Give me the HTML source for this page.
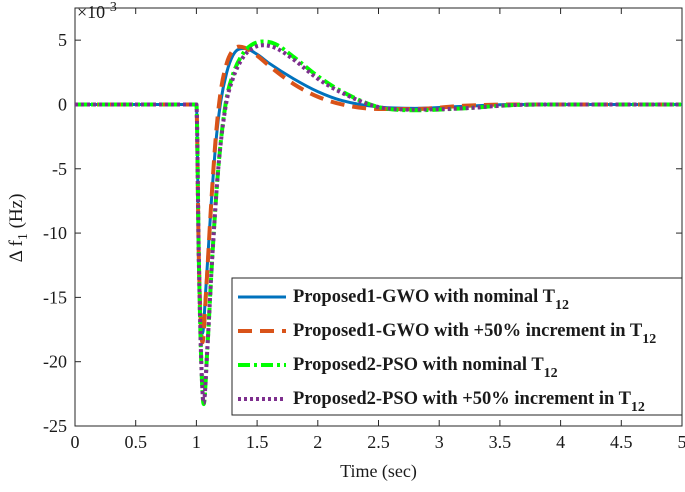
<!DOCTYPE html>
<html><head><meta charset="utf-8"><style>
body{margin:0;background:#fff;}
svg text{font-family:"Liberation Serif",serif;fill:#1a1a1a;}
</style></head><body>
<svg id="chart" width="685" height="487">
<g id="grid"></g>
<g id="series"></g>
<g id="legend"></g>
</svg>
<script>
const xTicks=[0,0.5,1,1.5,2,2.5,3,3.5,4,4.5,5];
const yTicks=[5,0,-5,-10,-15,-20,-25];
const tBlue=[0,1,1.02,1.05,1.08,1.12,1.16,1.2,1.25,1.3,1.35,1.4,1.5,1.6,1.8,2.0,2.2,2.5,2.8,3.2,3.6,4,5];
const vBlue=[0,0,-12,-17.8,-14,-8,-3,0.2,2.5,3.8,4.3,4.35,3.9,3.2,2.0,1.0,0.3,-0.2,-0.3,-0.15,0,0,0];
const tOrange=[0,1,1.02,1.05,1.08,1.12,1.16,1.2,1.25,1.3,1.35,1.4,1.5,1.6,1.8,2.0,2.2,2.5,2.8,3.2,3.6,4,5];
const vOrange=[0,0,-12,-18.5,-14.5,-8,-2.5,1,3.2,4.2,4.5,4.4,3.8,3.0,1.6,0.6,0,-0.35,-0.35,-0.1,0,0,0];
const tGreen=[0,1,1.02,1.04,1.06,1.09,1.13,1.18,1.24,1.3,1.38,1.45,1.55,1.65,1.8,2.0,2.2,2.5,2.8,3.2,3.6,4,5];
const vGreen=[0,0,-12,-20,-23.3,-19,-12,-5,0,2.3,3.9,4.6,4.9,4.7,3.7,2.2,1.0,-0.2,-0.45,-0.3,-0.05,0,0];
const tPurple=[0,1,1.02,1.04,1.06,1.09,1.13,1.18,1.24,1.3,1.38,1.45,1.55,1.65,1.8,2.0,2.2,2.5,2.8,3.2,3.6,4,5];
const vPurple=[0,0,-12,-20,-23.2,-19,-12,-5,-0.2,2.0,3.6,4.3,4.6,4.4,3.5,2.0,0.9,-0.2,-0.4,-0.3,-0.05,0,0];
const legendLabels=["Proposed1-GWO with nominal T","Proposed1-GWO with +50% increment in T","Proposed2-PSO with nominal T","Proposed2-PSO with +50% increment in T"];

const L=75,R=682,T=8,B=426,xmin=0,xmax=5,ymin=-25,ymax=7.5;
const X=v=>L+(v-xmin)/(xmax-xmin)*(R-L);
const Y=v=>B-(v-ymin)/(ymax-ymin)*(B-T);
const NS="http://www.w3.org/2000/svg";
function mk(tag,attrs,parent){const e=document.createElementNS(NS,tag);for(const k in attrs)e.setAttribute(k,attrs[k]);parent.appendChild(e);return e;}
const svg=document.getElementById('chart');
const grid=document.getElementById('grid');
const box=mk('rect',{x:L,y:T,width:R-L,height:B-T,fill:'#fff',stroke:'#262626','stroke-width':1},grid);


xTicks.forEach(v=>{
  const x=X(v);
  mk('line',{x1:x,x2:x,y1:B,y2:B-6,stroke:'#262626'},grid);
  mk('line',{x1:x,x2:x,y1:T,y2:T+6,stroke:'#262626'},grid);
  const t=mk('text',{x:x,y:B+22,'text-anchor':'middle','font-size':18},grid);
  t.textContent=String(v);
  
  
});
yTicks.forEach(v=>{
  const y=Y(v);
  mk('line',{x1:L,x2:L+6,y1:y,y2:y,stroke:'#262626'},grid);
  mk('line',{x1:R,x2:R-6,y1:y,y2:y,stroke:'#262626'},grid);
  const t=mk('text',{x:L-8,y:y+6,'text-anchor':'end','font-size':18},grid);
  t.textContent=String(v);
  
  
});
const xl=mk('text',{x:(L+R)/2,y:477,'text-anchor':'middle','font-size':18},svg);
xl.textContent='Time (sec)';


const yl=mk('text',{transform:'translate(22,228) rotate(-90)','text-anchor':'middle','font-size':19},svg);
yl.innerHTML='Δ f<tspan dy="5" font-size="14">1</tspan><tspan dy="-5"> (Hz)</tspan>';


const ex=mk('text',{x:77,y:18,'font-size':18},svg);
ex.innerHTML='×10<tspan dy="-7" font-size="14">-3</tspan>';



// monotone cubic (Fritsch-Carlson) - no overshoot
function pathD(ts,vs){
  const n=ts.length,d=[],m=new Array(n);
  for(let i=0;i<n-1;i++)d.push((vs[i+1]-vs[i])/(ts[i+1]-ts[i]));
  m[0]=d[0];m[n-1]=d[n-2];
  for(let i=1;i<n-1;i++){m[i]=(d[i-1]*d[i]<=0)?0:(d[i-1]+d[i])/2;}
  for(let i=0;i<n-1;i++){
    if(d[i]===0){m[i]=0;m[i+1]=0;continue;}
    const a=m[i]/d[i],b=m[i+1]/d[i],s=a*a+b*b;
    if(s>9){const k=3/Math.sqrt(s);m[i]=k*a*d[i];m[i+1]=k*b*d[i];}
  }
  let p='M'+X(ts[0])+','+Y(vs[0]);
  for(let i=0;i<n-1;i++){
    const h=ts[i+1]-ts[i];
    p+=` C${X(ts[i]+h/3)},${Y(vs[i]+m[i]*h/3)} ${X(ts[i+1]-h/3)},${Y(vs[i+1]-m[i+1]*h/3)} ${X(ts[i+1])},${Y(vs[i+1])}`;
  }
  return p;
}
const styles=[
 {c:'#0072BD',w:3,da:'',name:'series-gwo-nominal'},
 {c:'#D95319',w:4,da:'14,8',name:'series-gwo-increment'},
 {c:'#00FF00',w:4,da:'12,4,3,4',name:'series-pso-nominal'},
 {c:'#7E2F8E',w:4,da:'3,3',name:'series-pso-increment'}];
const sg=document.getElementById('series');
[[tBlue,vBlue],[tOrange,vOrange],[tGreen,vGreen],[tPurple,vPurple]].forEach((s,i)=>{
  const st=styles[i];
  const pth=mk('path',{d:pathD(s[0],s[1]),fill:'none',stroke:st.c,'stroke-width':st.w,'stroke-dasharray':st.da},sg);
  
  
});
const lg=document.getElementById('legend');
const lb=mk('rect',{x:232,y:278,width:450,height:137,fill:'#fff',stroke:'#262626'},lg);


legendLabels.forEach((lab,i)=>{
  const y=297+i*34,st=styles[i];
  mk('line',{x1:238,x2:286,y1:y,y2:y,stroke:st.c,'stroke-width':st.w,'stroke-dasharray':st.da},lg);
  const t=mk('text',{x:293,y:y+5,'font-size':18.5,'font-weight':'bold'},lg);
  t.innerHTML=lab+'<tspan dy="7" font-size="14">12</tspan>';
  
  
});
</script>
</body></html>
